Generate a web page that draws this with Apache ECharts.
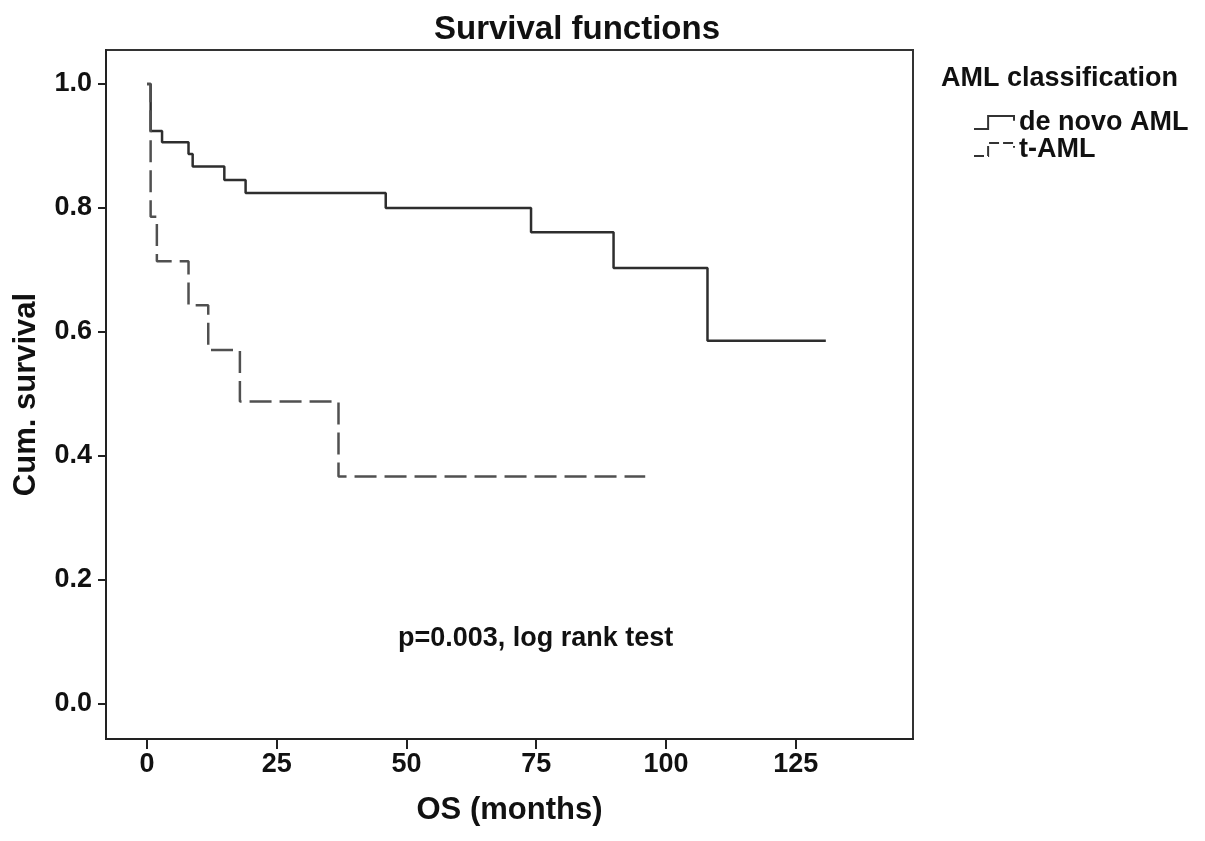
<!DOCTYPE html>
<html>
<head>
<meta charset="utf-8">
<script src="https://cdn.jsdelivr.net/npm/echarts@6/dist/echarts.min.js"></script>
<style>
  html, body { margin: 0; padding: 0; background: #fff; }
  #chart { width: 1205px; height: 841px; }
</style>
</head>
<body>
<div id="chart"></div>
<script>
// Kaplan-Meier step data
const deNovoTime = [0, 0.7, 2.9, 8.0, 8.8, 14.9, 19.0, 46.0, 74.0, 89.9, 108.0, 130.8];
const deNovoSurv = [1.0, 0.924, 0.906, 0.887, 0.867, 0.845, 0.824, 0.800, 0.761, 0.703, 0.586, 0.586];
const tAmlTime = [0, 0.7, 1.9, 8.0, 11.8, 17.9, 36.9, 96.0];
const tAmlSurv = [1.0, 0.786, 0.714, 0.643, 0.571, 0.488, 0.367, 0.367];

const xTicks = [0, 25, 50, 75, 100, 125];
const yTicks = [0, 0.2, 0.4, 0.6, 0.8, 1.0];

const seriesNames = ['de novo AML', 't-AML'];
const chartTitle = 'Survival functions';
const legendTitle = 'AML classification';
const noteText = 'p=0.003, log rank test';
const xName = 'OS (months)';
const yName = 'Cum. survival';

const FONT = '"Liberation Sans", Arial, sans-serif';
const zip = (a, b) => a.map((v, i) => [v, b[i]]);

const chart = echarts.init(document.getElementById('chart'));
const stepIcon = 'path://M0,11 L12,11 L12,0 L34,0 L34,4';

chart.setOption({
  animation: false,
  backgroundColor: '#fff',
  textStyle: { fontFamily: FONT },
  title: [
    { text: chartTitle, left: 572, top: 8, textAlign: 'center',
      textStyle: { fontFamily: FONT, fontWeight: 'bold', fontSize: 33, color: '#111' } },
    { text: legendTitle, left: 936, top: 60,
      textStyle: { fontFamily: FONT, fontWeight: 'bold', fontSize: 27, color: '#111' } },
    { text: noteText, left: 393, top: 620,
      textStyle: { fontFamily: FONT, fontWeight: 'bold', fontSize: 27, color: '#111' } }
  ],
  legend: {
    orient: 'vertical',
    left: 968,
    top: 104,
    itemGap: 0,
    itemWidth: 40,
    itemHeight: 13,
    textStyle: { fontFamily: FONT, fontWeight: 'bold', fontSize: 27, color: '#111', lineHeight: 27 },
    data: [
      { name: seriesNames[0], icon: stepIcon,
        itemStyle: { color: 'rgba(0,0,0,0)', borderColor: '#333', borderWidth: 2 } },
      { name: seriesNames[1], icon: stepIcon,
        itemStyle: { color: 'rgba(0,0,0,0)', borderColor: '#333', borderWidth: 2, borderType: [10, 4] } }
    ]
  },
  grid: {
    left: 106, right: 292, top: 50, bottom: 102,
    show: true, borderColor: '#333', borderWidth: 2, containLabel: false
  },
  xAxis: {
    type: 'value',
    min: -7.9, max: 147.6,
    name: xName,
    nameLocation: 'middle',
    nameGap: 56,
    nameTextStyle: { fontFamily: FONT, fontWeight: 'bold', fontSize: 31, color: '#111' },
    axisLine: { show: true, onZero: false, lineStyle: { color: '#222', width: 2 } },
    axisTick: { show: true, inside: false, length: 10, lineStyle: { color: '#222', width: 2 }, customValues: xTicks },
    axisLabel: { customValues: xTicks, margin: 12, fontFamily: FONT, fontWeight: 'bold', fontSize: 27, color: '#111' },
    splitLine: { show: false }
  },
  yAxis: {
    type: 'value',
    min: -0.0565, max: 1.0548,
    name: yName,
    nameLocation: 'middle',
    nameGap: 64,
    nameTextStyle: { fontFamily: FONT, fontWeight: 'bold', fontSize: 31, color: '#111' },
    axisLine: { show: true, onZero: false, lineStyle: { color: '#222', width: 2 } },
    axisTick: { show: true, inside: false, length: 8, lineStyle: { color: '#222', width: 2 }, customValues: yTicks },
    axisLabel: { customValues: yTicks, margin: 14, fontFamily: FONT, fontWeight: 'bold', fontSize: 27, color: '#111',
      formatter: v => v.toFixed(1) },
    splitLine: { show: false }
  },
  series: [
    { name: seriesNames[0], type: 'line', step: 'end', symbol: 'none',
      lineStyle: { color: '#2e2e2e', width: 2.5 }, itemStyle: { color: '#2e2e2e' },
      data: zip(deNovoTime, deNovoSurv) },
    { name: seriesNames[1], type: 'line', step: 'end', symbol: 'none',
      lineStyle: { color: '#505050', width: 2.5, type: [22, 8] }, itemStyle: { color: '#505050' },
      data: zip(tAmlTime, tAmlSurv) }
  ]
});
</script>
</body>
</html>
